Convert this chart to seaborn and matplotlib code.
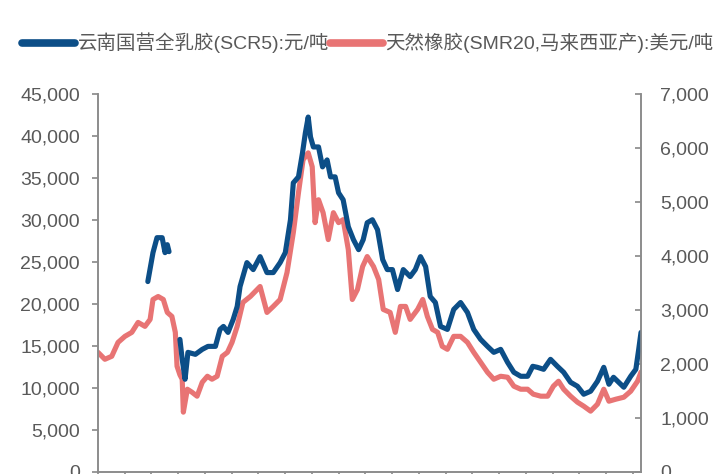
import numpy as np
import pandas as pd
import matplotlib
matplotlib.use("Agg")
import matplotlib.pyplot as plt
import seaborn as sns
from matplotlib.lines import Line2D
from matplotlib.ticker import FuncFormatter, FixedLocator

sns.set_theme(style="white")
plt.rcParams['font.family'] = ['Liberation Sans', 'Noto Sans CJK SC', 'DejaVu Sans']

# ---- data (time in decimal years) ----
scr5_label = "云南国营全乳胶(SCR5):元/吨"
smr20_label = "天然橡胶(SMR20,马来西亚产):美元/吨"

scr5_seg1_t = [2008.30, 2008.39, 2008.46, 2008.55, 2008.60, 2008.64, 2008.67]
scr5_seg1_v = [22672, 26114, 27895, 27895, 26114, 27064, 26233]

scr5_seg2_t = [2008.86, 2008.90, 2008.95, 2009.00, 2009.13, 2009.25, 2009.35, 2009.48, 2009.56,
               2009.62, 2009.70, 2009.79, 2009.86, 2009.91, 2010.03, 2010.14, 2010.26, 2010.38,
               2010.49, 2010.61, 2010.70, 2010.79, 2010.84, 2010.93, 2011.00, 2011.05, 2011.10,
               2011.14, 2011.19, 2011.28, 2011.35, 2011.43, 2011.49, 2011.57, 2011.63, 2011.71,
               2011.80, 2011.89, 2011.98, 2012.06, 2012.13, 2012.22, 2012.31, 2012.40, 2012.48,
               2012.57, 2012.66, 2012.76, 2012.88, 2012.97, 2013.06, 2013.15, 2013.23, 2013.32,
               2013.41, 2013.53, 2013.64, 2013.76, 2013.88, 2013.99, 2014.11, 2014.23, 2014.34,
               2014.46, 2014.58, 2014.69, 2014.81, 2014.93, 2015.02, 2015.10, 2015.21, 2015.33,
               2015.45, 2015.56, 2015.68, 2015.80, 2015.91, 2016.03, 2016.15, 2016.26, 2016.35,
               2016.43, 2016.52, 2016.61, 2016.73, 2016.82, 2016.87, 2016.91]
scr5_seg2_v = [15787, 13413, 11039, 14244, 14007, 14600, 14956, 14956, 16974,
               17330, 16618, 18161, 19704, 22078, 24927, 24096, 25639, 23740,
               23740, 24927, 26114, 30031, 34423, 35135, 37984, 40358, 42257,
               39884, 38697, 38697, 36322, 37153, 35135, 35135, 33236, 32405,
               29200, 27657, 26470, 27657, 29675, 30031, 28844, 25283, 24096,
               24096, 21722, 24096, 23265, 24096, 25639, 24452, 20891, 20179,
               17330, 16974, 19348, 20179, 18992, 16974, 15787, 14956, 14244,
               14600, 13057, 11870, 11395, 11395, 12582, 12464, 12226, 13413,
               12582, 11870, 10683, 10208, 9258, 9614, 10802, 12464, 10446,
               11277, 10683, 10090, 11395, 12226, 14600, 16618]

smr20_t = [2007.43, 2007.55, 2007.67, 2007.78, 2007.90, 2008.02, 2008.13, 2008.25, 2008.34,
           2008.39, 2008.48, 2008.57, 2008.64, 2008.72, 2008.78, 2008.81, 2008.86, 2008.90,
           2008.92, 2008.99, 2009.07, 2009.16, 2009.25, 2009.34, 2009.42, 2009.51, 2009.60,
           2009.69, 2009.77, 2009.86, 2009.96, 2010.09, 2010.26, 2010.38, 2010.49, 2010.61,
           2010.73, 2010.84, 2010.93, 2011.01, 2011.10, 2011.17, 2011.22, 2011.28, 2011.36,
           2011.45, 2011.54, 2011.63, 2011.71, 2011.80, 2011.87, 2011.96, 2012.05, 2012.13,
           2012.24, 2012.33, 2012.41, 2012.53, 2012.62, 2012.71, 2012.80, 2012.88, 2013.01,
           2013.10, 2013.18, 2013.27, 2013.36, 2013.44, 2013.53, 2013.64, 2013.76, 2013.88,
           2013.99, 2014.11, 2014.23, 2014.34, 2014.46, 2014.58, 2014.69, 2014.81, 2014.93,
           2015.03, 2015.16, 2015.28, 2015.38, 2015.47, 2015.56, 2015.68, 2015.80, 2015.91,
           2016.03, 2016.15, 2016.26, 2016.35, 2016.47, 2016.61, 2016.73, 2016.85, 2016.91]
smr20_v = [2216, 2087, 2143, 2400, 2512, 2586, 2770, 2697, 2826,
           3195, 3250, 3195, 2955, 2881, 2586, 1958, 1800, 1718,
           1108, 1533, 1478, 1404, 1662, 1773, 1718, 1773, 2143,
           2216, 2400, 2697, 3140, 3251, 3435, 2955, 3066, 3195,
           3694, 4433, 5172, 5781, 5910, 5652, 4618, 5042, 4802,
           4304, 4802, 4618, 4673, 4119, 3195, 3380, 3805, 3990,
           3805, 3565, 3011, 2955, 2586, 3066, 3066, 2826, 3011,
           3195, 2881, 2641, 2586, 2327, 2272, 2512, 2512, 2401,
           2216, 2032, 1847, 1718, 1773, 1755, 1589, 1533, 1533,
           1441, 1404, 1404, 1589, 1681, 1533, 1404, 1293, 1219,
           1127, 1256, 1533, 1311, 1348, 1385, 1496, 1681, 1850]

left_ticks = [0, 5000, 10000, 15000, 20000, 25000, 30000, 35000, 40000, 45000]
right_ticks = [0, 1000, 2000, 3000, 4000, 5000, 6000, 7000]

# ---- frames ----
df_scr5 = pd.DataFrame({
    "t": scr5_seg1_t + scr5_seg2_t,
    "v": scr5_seg1_v + scr5_seg2_v,
    "seg": [1] * len(scr5_seg1_t) + [2] * len(scr5_seg2_t),
})
df_smr = pd.DataFrame({"t": smr20_t, "v": smr20_v, "seg": 1})

blue = "#0c4e87"
red = "#e87474"
gray_txt = "#595959"
spine_c = "#8c8c8c"

fig = plt.figure(figsize=(7.2, 4.74), dpi=100)
ax = fig.add_axes([98 / 720, 2 / 474, (641 - 98) / 720, (472 - 94) / 474])
ax2 = ax.twinx()

sns.lineplot(data=df_smr, x="t", y="v", units="seg", estimator=None, ax=ax2,
             color=red, linewidth=3.7, legend=False)
sns.lineplot(data=df_scr5, x="t", y="v", units="seg", estimator=None, ax=ax,
             color=blue, linewidth=3.7, legend=False)

ax.set_zorder(ax2.get_zorder() + 1)
ax.patch.set_visible(False)

x0, x1 = 2007.43, 2016.91
ax.set_xlim(x0, x1)
ax.set_ylim(0, 45000)
ax2.set_ylim(0, 7000)
ax.set_yticks(left_ticks)
ax2.set_yticks(right_ticks)
fmt = FuncFormatter(lambda v, p: f"{int(v):,}")
ax.yaxis.set_major_formatter(fmt)
ax2.yaxis.set_major_formatter(fmt)
ax.xaxis.set_major_locator(FixedLocator(list(np.arange(x0, x1 + 0.01, 0.4668))))
ax.set_xticklabels([])
for a in (ax, ax2):
    a.set_xlabel("")
    a.set_ylabel("")
    a.grid(False)
    for s in a.spines.values():
        s.set_color(spine_c)
        s.set_linewidth(1.2)
    a.spines["top"].set_visible(False)

ax.tick_params(axis="y", direction="out", length=4, color=spine_c, labelsize=14,
               labelcolor=gray_txt, pad=9, left=True)
ax.tick_params(axis="x", direction="out", length=4, color=spine_c, bottom=True)
ax2.tick_params(axis="y", direction="in", length=4, color=spine_c, labelsize=14,
                labelcolor=gray_txt, pad=14, right=True)

handles = [Line2D([], [], color=blue, linewidth=5.5),
           Line2D([], [], color=red, linewidth=5.5)]
fig.legend(handles, [scr5_label, smr20_label], loc="center left",
           bbox_to_anchor=(22 / 720, 1 - 43 / 474), ncol=2, frameon=False,
           fontsize=14, handlelength=2.75, handletextpad=0.1, columnspacing=0.05,
           labelcolor=gray_txt, borderaxespad=0, borderpad=0)

fig.savefig("out.png", dpi=100)
